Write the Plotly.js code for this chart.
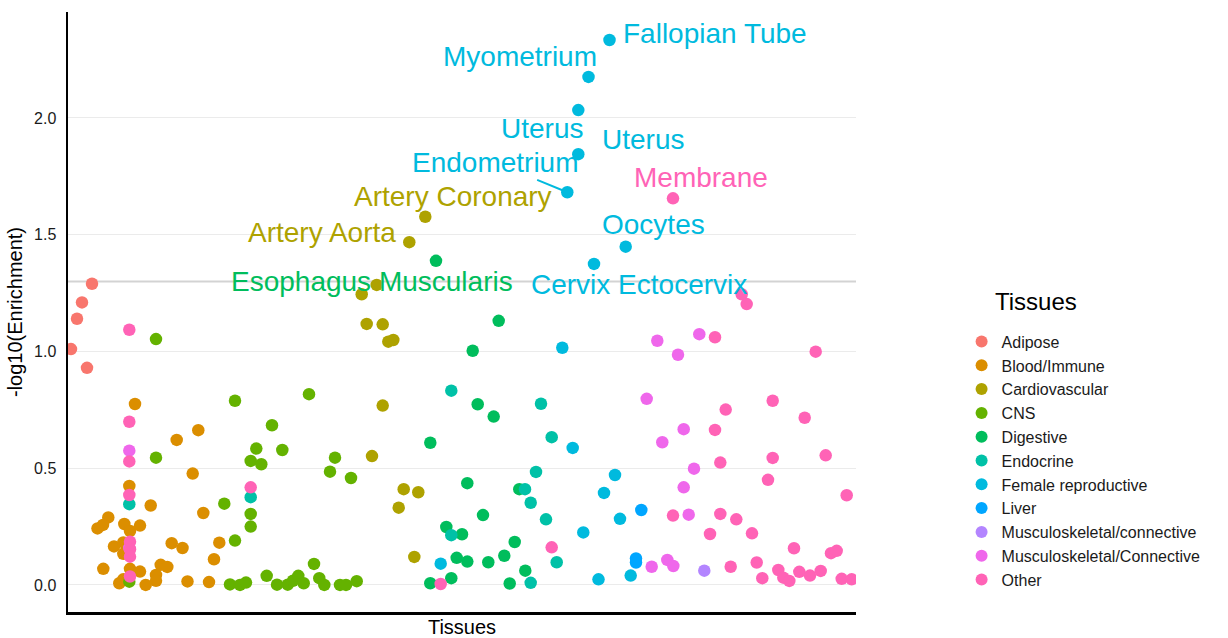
<!DOCTYPE html>
<html>
<head>
<meta charset="utf-8">
<script src="https://cdn.plot.ly/plotly-3.0.1.min.js"></script>
<style>
  html, body { margin: 0; padding: 0; background: #ffffff; }
  #chart { width: 1228px; height: 638px; }
</style>
</head>
<body>
<div id="chart"></div>
<script>
// ---- data: x = tissue position index, y = -log10(Enrichment) ----
const tissueGroups = ["Adipose", "Blood/Immune", "Cardiovascular", "CNS", "Digestive", "Endocrine",
  "Female reproductive", "Liver", "Musculoskeletal/connective", "Musculoskeletal/Connective", "Other"];
const groupColors = ["#F8766D", "#DB8E00", "#AEA200", "#64B200", "#00BD5C", "#00C1A7",
  "#00BADE", "#00A6FF", "#B385FF", "#EF67EB", "#FF63B6"];

const adiposeX = [0.6, 1.8, 2.8, 4.8, 3.8];
const adiposeY = [1.01, 1.14, 1.21, 1.29, 0.93];

const bloodX = [13.4, 21.74, 26.06, 24.94, 12.26, 16.54, 27.06, 8.06, 7.0, 5.9, 11.26, 12.4, 14.4, 9.2, 11.06, 11.06,
  20.74, 22.9, 30.26, 29.2, 7.06, 12.4, 14.4, 18.54, 19.86, 17.6, 17.6, 10.26, 11.06, 15.54, 23.9, 28.2];
const bloodY = [0.775, 0.621, 0.663, 0.477, 0.424, 0.34, 0.308, 0.289, 0.257, 0.242, 0.261, 0.231, 0.254, 0.165, 0.182, 0.133,
  0.179, 0.158, 0.181, 0.11, 0.069, 0.069, 0.057, 0.086, 0.077, 0.043, 0.018, 0.007, 0.024, 0.0, 0.015, 0.012];

const cardioX = [71.46, 68.26, 61.74, 58.74, 59.74, 62.94, 64.06, 65.06, 62.94, 60.8, 67.14, 70.06, 66.14, 69.26];
const cardioY = [1.577, 1.468, 1.285, 1.245, 1.118, 1.116, 1.042, 1.049, 0.768, 0.552, 0.41, 0.397, 0.331, 0.12];

const cnsX = [17.6, 33.4, 48.2, 40.8, 37.66, 42.86, 36.54, 38.66, 17.6, 53.4, 52.4, 56.6, 31.26, 36.54, 36.54, 33.4,
  12.26, 32.4, 34.4, 35.6, 39.74, 41.8, 43.94, 45.0, 46.06, 47.14, 49.2, 50.26, 51.26, 54.4, 55.6, 57.74];
const cnsY = [1.053, 0.789, 0.817, 0.684, 0.584, 0.578, 0.531, 0.517, 0.545, 0.545, 0.485, 0.458, 0.348, 0.304, 0.25, 0.19,
  0.014, 0.002, 0.0, 0.01, 0.039, 0.001, 0.001, 0.018, 0.039, 0.007, 0.09, 0.029, 0.0, 0.0, 0.0, 0.016];

const digestiveX = [73.6, 86.14, 80.94, 81.94, 85.14, 72.46, 79.86, 90.26, 83.0, 75.66, 78.8, 89.34, 77.74, 79.86,
  84.06, 87.26, 91.46, 72.46, 76.66, 88.34];
const digestiveY = [1.388, 1.131, 1.003, 0.774, 0.721, 0.609, 0.436, 0.41, 0.299, 0.248, 0.217, 0.184, 0.116, 0.1,
  0.097, 0.125, 0.061, 0.007, 0.029, 0.006];

const endocrineX = [12.26, 36.54, 76.66, 94.6, 96.74, 93.6, 91.4, 92.54, 95.6, 76.66, 97.74, 92.54];
const endocrineY = [0.346, 0.376, 0.832, 0.776, 0.633, 0.484, 0.41, 0.352, 0.281, 0.213, 0.097, 0.009];

const femaleX = [108.3, 104.1, 102.06, 102.06, 99.86, 111.54, 105.2, 98.86, 100.94, 109.4, 107.2, 110.4, 103.06,
  106.1, 112.54, 74.54];
const femaleY = [2.334, 2.176, 2.034, 1.845, 1.682, 1.449, 1.375, 1.016, 0.587, 0.471, 0.394, 0.283, 0.225,
  0.024, 0.04, 0.091];

const liverX = [114.66, 113.6, 113.6];
const liverY = [0.321, 0.113, 0.096];

const muscLowerX = [127.26];
const muscLowerY = [0.061];

const muscUpperX = [12.26, 12.26, 117.86, 126.26, 122.0, 115.74, 123.14, 118.86, 125.2, 123.14, 124.14, 116.74, 119.86, 121.06];
const muscUpperY = [0.575, 0.158, 1.046, 1.074, 0.986, 0.797, 0.667, 0.611, 0.498, 0.418, 0.301, 0.078, 0.107, 0.081];

const otherX = [12.26, 12.26, 12.26, 12.26, 12.4, 12.4, 12.4, 12.4, 36.54, 74.54, 96.74, 121.0, 134.74, 135.74,
  129.4, 131.54, 129.4, 130.46, 121.0, 130.46, 133.66, 128.4, 136.8, 132.54, 137.74, 138.86, 149.54, 140.94,
  147.34, 140.94, 151.54, 140.0, 155.74, 145.2, 152.6, 153.74, 142.06, 143.06, 144.26, 146.26, 148.4, 150.54,
  154.74, 156.74];
const otherY = [1.093, 0.699, 0.529, 0.385, 0.185, 0.153, 0.121, 0.036, 0.418, 0.004, 0.161, 1.656, 1.245, 1.203,
  1.061, 0.751, 0.664, 0.524, 0.297, 0.304, 0.281, 0.218, 0.221, 0.078, 0.096, 0.029, 0.999, 0.789,
  0.716, 0.544, 0.555, 0.45, 0.384, 0.157, 0.136, 0.146, 0.064, 0.031, 0.017, 0.056, 0.04, 0.06,
  0.026, 0.024];

// labelled tissues (text, group index, point x, point y)
const labelText = ["Fallopian Tube", "Myometrium", "Uterus", "Uterus", "Endometrium", "Membrane",
  "Artery Coronary", "Oocytes", "Artery Aorta", "Esophagus Muscularis", "Cervix Ectocervix"];
const labelGroup = [6, 6, 6, 6, 6, 10, 2, 6, 2, 4, 6];
const labelPointX = [108.3, 104.1, 102.06, 102.06, 99.86, 121.0, 71.46, 111.54, 68.26, 73.6, 105.2];
const labelPointY = [2.334, 2.176, 2.034, 1.845, 1.682, 1.656, 1.577, 1.449, 1.468, 1.388, 1.375];

const threshold = 1.3;

// ---- layout-only settings ----
const labelShift = [[105.5, 7], [-68.5, 20], [-36.3, -18], [64.2, 14.3], [-71.8, 29.3], [28, 21.3],
  [27.2, 20.7], [27.8, 21.7], [-87.3, 9.3], [-64.5, -21], [45, -21]];
const arrowLabels = [4];

const seriesX = [adiposeX, bloodX, cardioX, cnsX, digestiveX, endocrineX, femaleX, liverX, muscLowerX, muscUpperX, otherX];
const seriesY = [adiposeY, bloodY, cardioY, cnsY, digestiveY, endocrineY, femaleY, liverY, muscLowerY, muscUpperY, otherY];

const FONT = "Liberation Sans, Arial, sans-serif";

const traces = tissueGroups.map((name, i) => ({
  type: "scatter",
  mode: "markers",
  name: name,
  x: seriesX[i],
  y: seriesY[i],
  marker: { color: groupColors[i], size: 12.5, line: { width: 0 } },
  hoverinfo: "name+y"
}));

const annotations = labelText.map((t, i) => {
  const a = {
    x: labelPointX[i], y: labelPointY[i], xref: "x", yref: "y",
    text: t,
    font: { family: FONT, size: 28, color: groupColors[labelGroup[i]] },
    xanchor: "center", yanchor: "middle"
  };
  if (arrowLabels.includes(i)) {
    a.showarrow = true;
    a.arrowhead = 0;
    a.arrowwidth = 2;
    a.arrowcolor = groupColors[labelGroup[i]];
    a.ax = labelShift[i][0];
    a.ay = -labelShift[i][1];
    a.standoff = 0;
  } else {
    a.showarrow = false;
    a.xshift = labelShift[i][0];
    a.yshift = labelShift[i][1];
  }
  return a;
});

// legend title
annotations.push({
  xref: "paper", yref: "paper", x: 1.1739, y: 0.518, xanchor: "left", yanchor: "middle",
  text: "Tissues", showarrow: false,
  font: { family: FONT, size: 24, color: "#000000" }
});

const layout = {
  width: 1228, height: 638,
  margin: { l: 68, r: 372, t: 12, b: 26, pad: 0 },
  paper_bgcolor: "#ffffff", plot_bgcolor: "#ffffff",
  font: { family: FONT, color: "#000000" },
  showlegend: true,
  legend: {
    x: 1.134, xanchor: "left", y: 0.479, yanchor: "top",
    font: { family: FONT, size: 16, color: "#1a1a1a" },
    tracegroupgap: 0, itemsizing: "constant", bgcolor: "rgba(0,0,0,0)"
  },
  xaxis: {
    range: [0, 157.6], showgrid: false, zeroline: false, showticklabels: false, ticks: "",
    showline: true, linecolor: "#000000", linewidth: 2.5,
    title: { text: "Tissues", font: { family: FONT, size: 20, color: "#000000" }, standoff: 9 }
  },
  yaxis: {
    range: [-0.116, 2.454], tickvals: [0, 0.5, 1, 1.5, 2], ticktext: ["0.0", "0.5", "1.0", "1.5", "2.0"],
    showgrid: true, gridcolor: "#EBEBEB", gridwidth: 1, zeroline: false, ticks: "",
    showline: true, linecolor: "#000000", linewidth: 2.5,
    tickfont: { family: FONT, size: 16, color: "#1a1a1a" }, ticklabelstandoff: 6,
    title: { text: "-log10(Enrichment)", font: { family: FONT, size: 20, color: "#000000" }, standoff: 6 }
  },
  shapes: [{
    type: "line", xref: "paper", x0: 0, x1: 1, yref: "y", y0: threshold, y1: threshold,
    line: { color: "#D3D3D3", width: 2 }, layer: "below"
  }],
  annotations: annotations
};

Plotly.newPlot("chart", traces, layout, { displayModeBar: false, staticPlot: true });
</script>
</body>
</html>
